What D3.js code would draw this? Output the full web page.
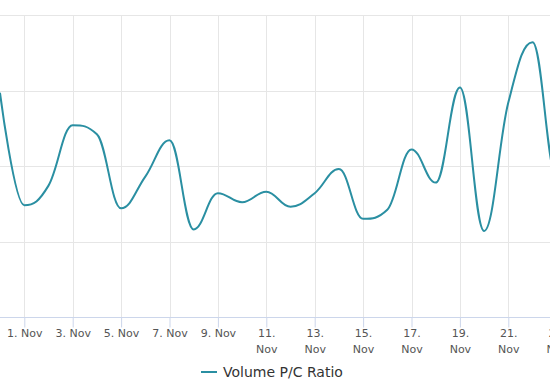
<!DOCTYPE html>
<html>
<head>
<meta charset="utf-8">
<script src="https://cdn.jsdelivr.net/npm/d3@7"></script>
<style>
  html, body { margin: 0; padding: 0; background: #fff; overflow: hidden; }
  #wrapper { width: 550px; height: 385px; }
  text { font-family: "DejaVu Sans", sans-serif; }
</style>
</head>
<body>
<div id="wrapper"></div>
<script>
// data (dates in November, Oct 31 = day 0)
const days = [0, 1, 2, 3, 4, 5, 6, 7, 8, 9, 10, 11, 12, 13, 14, 15, 16, 17, 18, 19, 20, 21, 22, 23, 24]
const ratio = [1.48, 0.74, 0.87, 1.27, 1.21, 0.72, 0.93, 1.17, 0.58, 0.82, 0.76, 0.83, 0.73, 0.82, 0.98,
  0.65, 0.71, 1.11, 0.89, 1.52, 0.57, 1.42, 1.82, 0.93, 1.05]
const tickDays = [1, 3, 5, 7, 9, 11, 13, 15, 17, 19, 21, 23]
const tickLabels = ["1. Nov", "3. Nov", "5. Nov", "7. Nov", "9. Nov", "11. Nov", "13. Nov",
  "15. Nov", "17. Nov", "19. Nov", "21. Nov", "23. Nov"]
const yTicks = [0, 0.5, 1, 1.5, 2]
const seriesName = "Volume P/C Ratio"

const dayDate = d => new Date(Date.UTC(2020, 9, 31 + d))

// highcharts-like spline as a d3 curve
function HCSpline(context) { this._context = context }
HCSpline.prototype = {
  areaStart() { this._line = 0 },
  areaEnd() { this._line = NaN },
  lineStart() { this._pts = [] },
  point(x, y) { this._pts.push([+x, +y]) },
  lineEnd() {
    const p = this._pts, ctx = this._context
    const s = 1.5, den = s + 1
    const right = []
    p.forEach((pt, i) => {
      const [x, y] = pt
      let lx = x, ly = y, rx = x, ry = y
      if (i > 0 && i < p.length - 1) {
        const [px, py] = p[i - 1], [nx, ny] = p[i + 1]
        lx = (s * x + px) / den; ly = (s * y + py) / den
        rx = (s * x + nx) / den; ry = (s * y + ny) / den
        let corr = 0
        if (rx !== lx) corr = ((ry - ly) * (rx - x)) / (rx - lx) + y - ry
        ly += corr; ry += corr
        if (ly > py && ly > y) { ly = Math.max(py, y); ry = 2 * y - ly }
        else if (ly < py && ly < y) { ly = Math.min(py, y); ry = 2 * y - ly }
        if (ry > ny && ry > y) { ry = Math.max(ny, y); ly = 2 * y - ry }
        else if (ry < ny && ry < y) { ry = Math.min(ny, y); ly = 2 * y - ry }
      }
      right.push([rx, ry])
      if (i === 0) ctx.moveTo(x, y)
      else ctx.bezierCurveTo(right[i - 1][0], right[i - 1][1], lx, ly, x, y)
    })
  }
}
const curveHC = ctx => new HCSpline(ctx)

function drawChart() {
  const dimensions = { width: 550, height: 385, top: 15, bottom: 317 }

  const svg = d3.select("#wrapper").append("svg")
    .attr("width", dimensions.width)
    .attr("height", dimensions.height)

  const xScale = d3.scaleUtc()
    .domain([dayDate(1), dayDate(23)])
    .range([24.3, 556.7])

  const yScale = d3.scaleLinear()
    .domain([0, 2])
    .range([dimensions.bottom, dimensions.top])

  // horizontal grid
  svg.append("g")
    .selectAll("line")
    .data(yTicks.slice(1))
    .join("line")
    .attr("x1", 0).attr("x2", dimensions.width)
    .attr("y1", d => Math.round(yScale(d)) + 0.5)
    .attr("y2", d => Math.round(yScale(d)) + 0.5)
    .attr("stroke", "#e6e6e6")

  // vertical grid
  svg.append("g")
    .selectAll("line")
    .data(tickDays)
    .join("line")
    .attr("x1", d => Math.round(xScale(dayDate(d))) + 0.5)
    .attr("x2", d => Math.round(xScale(dayDate(d))) + 0.5)
    .attr("y1", dimensions.top)
    .attr("y2", dimensions.bottom)
    .attr("stroke", "#e6e6e6")

  // x axis
  const xAxis = svg.append("g")
    .attr("transform", `translate(0, ${Math.round(yScale(0)) + 0.5})`)
    .call(d3.axisBottom(xScale)
      .tickValues(tickDays.map(dayDate))
      .tickSize(10)
      .tickFormat((d, i) => tickLabels[i]))
  xAxis.select(".domain").attr("stroke", "#ccd6eb").attr("d", `M0,0H${dimensions.width}`)
  xAxis.selectAll(".tick line").attr("stroke", "#ccd6eb")
  xAxis.selectAll(".tick text")
    .attr("fill", "#555")
    .attr("font-size", 11)
    .attr("y", 19.5)
    .attr("dy", 0)
    .each(function (d, i) {
      const label = tickLabels[i]
      const t = d3.select(this).text(null)
      if (label.length > 6) {
        const parts = label.split(" ")
        t.append("tspan").attr("x", 0).attr("dy", 0).text(parts[0])
        t.append("tspan").attr("x", 0).attr("dy", 15.5).text(parts[1])
      } else {
        t.append("tspan").attr("x", 0).text(label)
      }
    })

  // series
  const line = d3.line()
    .x((d, i) => xScale(dayDate(days[i])))
    .y(d => yScale(d))
    .curve(curveHC)

  svg.append("path")
    .datum(ratio)
    .attr("d", line)
    .attr("fill", "none")
    .attr("stroke", "#2a8fa2")
    .attr("stroke-width", 2)
    .attr("stroke-linejoin", "round")
    .attr("stroke-linecap", "round")

  // legend
  const legend = svg.append("g").attr("transform", "translate(201, 372)")
  legend.append("line")
    .attr("x1", 0).attr("x2", 16)
    .attr("stroke", "#2a8fa2")
    .attr("stroke-width", 2)
  legend.append("text")
    .attr("x", 22)
    .attr("y", 5)
    .attr("fill", "#333")
    .attr("font-size", 14)
    .text(seriesName)
}

drawChart()
</script>
</body>
</html>
